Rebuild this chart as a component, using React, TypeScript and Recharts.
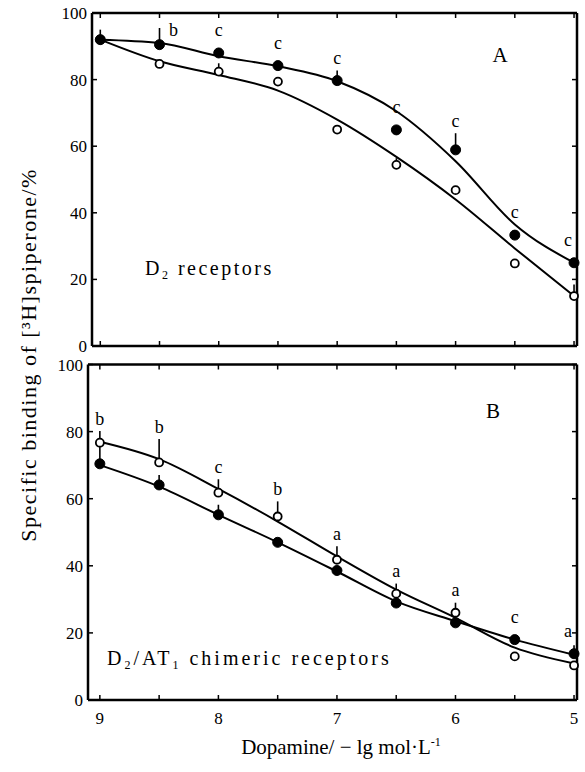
import React from 'react';
import { ComposedChart, Line, XAxis, YAxis, ErrorBar, LabelList } from 'recharts';

const FONT = "'Liberation Serif', 'DejaVu Serif', 'Times New Roman', serif";

// x = dopamine, -lg mol/L (axis runs 9 -> 5)
const doses = [9, 8.5, 8, 7.5, 7, 6.5, 6, 5.5, 5];
const xTicks = [9, 8.5, 8, 7.5, 7, 6.5, 6, 5.5, 5];
const yTicks = [0, 20, 40, 60, 80, 100];

// panel A: D2 receptors
const aFilled = [92, 90.5, 88, 84.2, 79.7, 64.9, 58.9, 33.3, 25];
const aOpen = [92, 84.7, 82.4, 79.4, 65, 54.4, 46.8, 24.8, 15];
const aFilledFit = [92, 91, 87, 84, 79.5, 70.5, 55.5, 36.5, 25];
const aOpenFit = [92, 85.5, 81.4, 76.7, 68, 56.8, 44, 29.3, 15];
const aFilledErr = [3, 5, 1.5, 0, 3, 0, 5, 0, 0];
const aOpenErr = [0, 0, 2.5, 0, 0, 2, 0, 0, 3.5];
const aFilledSig = ['', 'b', 'c', 'c', 'c', 'c', 'c', 'c', 'c'];
const aOpenSig = ['', '', '', '', '', '', '', '', ''];

// panel B: D2/AT1 chimeric receptors
const bFilled = [70.4, 64.1, 55.2, 47, 38.6, 28.9, 23, 18, 13.8];
const bOpen = [76.7, 70.8, 61.8, 54.7, 41.8, 31.7, 26, 13, 10.3];
const bFilledFit = [70, 63.6, 55.2, 47, 38.3, 29.4, 23.5, 18, 13.5];
const bOpenFit = [77, 71.8, 62.9, 53.2, 42.8, 32.9, 24.5, 15.6, 10.9];
const bFilledErr = [5, 3, 3, 0, 0, 0, 0, 0, 2.5];
const bOpenErr = [3.5, 7, 4, 4.5, 4, 3, 3, 0, 0];
const bFilledSig = ['', '', '', '', '', '', '', 'c', 'a'];
const bOpenSig = ['b', 'b', 'c', 'b', 'a', 'a', 'a', '', ''];

const buildRows = (filled, open, filledFit, openFit, filledErr, openErr, filledSig, openSig) =>
  doses.map((d, i) => ({
    dose: d,
    filled: filled[i],
    open: open[i],
    filledFit: filledFit[i],
    openFit: openFit[i],
    filledErr: [0, filledErr[i]],
    openErr: [0, openErr[i]],
    filledSig: filledSig[i],
    openSig: openSig[i],
  }));

const rowsA = buildRows(aFilled, aOpen, aFilledFit, aOpenFit, aFilledErr, aOpenErr, aFilledSig, aOpenSig);
const rowsB = buildRows(bFilled, bOpen, bFilledFit, bOpenFit, bFilledErr, bOpenErr, bFilledSig, bOpenSig);

// significance letters sit above the error bar; near the frame they move aside
const sigLabel = (errs: number[], pxPerUnit: number, plotTop: number) => (props: any) => {
  const { value, index } = props;
  if (!value) return null;
  let x = props.x ?? props.viewBox?.x;
  const y = props.y ?? props.viewBox?.y;
  const errPx = errs[index] * pxPerUnit;
  let ty = y - Math.max(22, errPx + 11);
  if (ty < plotTop + 12) {
    x += 14;
    ty = y - errPx + 3;
  }
  if (index === doses.length - 1) x -= 6;
  return (
    <text x={x} y={ty} dy={5} textAnchor="middle" fontSize={18} fontFamily={FONT} fill="#000">
      {value}
    </text>
  );
};

const XTick = (props: any) => {
  const { x, y, payload, show } = props;
  if (!show || !Number.isInteger(payload.value)) return <g />;
  return (
    <text x={x} y={y} dy={24} textAnchor="middle" fontSize={17} fontFamily={FONT} fill="#000">
      {payload.value}
    </text>
  );
};

const Empty = () => <g />;

const axisLine = { stroke: '#000', strokeWidth: 2.5 };
const tickLine = { stroke: '#000', strokeWidth: 1.5 };

function Panel({ rows, top, height, margin, domain, showX, errs, pxPerUnit }) {
  const plotTop = margin.top + 1;
  return (
    <div style={{ position: 'absolute', left: 0, top }}>
      <ComposedChart width={585} height={height} data={rows} margin={margin}>
        <XAxis
          dataKey="dose"
          type="number"
          domain={domain}
          reversed
          ticks={xTicks}
          interval={0}
          height={showX ? 30 : 1}
          tickSize={-5}
          tickMargin={5}
          axisLine={axisLine}
          tickLine={tickLine}
          tick={(p) => <XTick {...p} show={showX} />}
        />
        <XAxis
          xAxisId="top"
          dataKey="dose"
          orientation="top"
          type="number"
          domain={domain}
          reversed
          ticks={xTicks}
          interval={0}
          height={1}
          tickSize={-5}
          axisLine={axisLine}
          tickLine={tickLine}
          tick={Empty}
        />
        <YAxis
          type="number"
          domain={[0, 100]}
          ticks={yTicks}
          interval={0}
          width={40}
          tickSize={-5}
          tickMargin={10}
          axisLine={axisLine}
          tickLine={tickLine}
          tick={{ fontSize: 17, fill: '#000', fontFamily: FONT }}
        />
        <YAxis
          yAxisId="right"
          orientation="right"
          type="number"
          domain={[0, 100]}
          ticks={yTicks}
          interval={0}
          width={1}
          tickSize={-5}
          axisLine={axisLine}
          tickLine={tickLine}
          tick={Empty}
        />
        {/* invisible series so the frame axes (top / right) get a domain */}
        <Line
          xAxisId="top"
          yAxisId="right"
          dataKey="filledFit"
          stroke="none"
          dot={false}
          activeDot={false}
          legendType="none"
          isAnimationActive={false}
        />
        <Line dataKey="openFit" type="monotone" stroke="#000" strokeWidth={2} dot={false} activeDot={false} isAnimationActive={false} />
        <Line dataKey="filledFit" type="monotone" stroke="#000" strokeWidth={2} dot={false} activeDot={false} isAnimationActive={false} />
        <Line
          dataKey="open"
          stroke="none"
          dot={{ r: 4, fill: '#fff', stroke: '#000', strokeWidth: 1.8 }}
          activeDot={false}
          isAnimationActive={false}
        >
          <ErrorBar dataKey="openErr" direction="y" width={0} stroke="#000" strokeWidth={1.6} />
          <LabelList dataKey="openSig" content={sigLabel(errs.open, pxPerUnit, plotTop)} />
        </Line>
        <Line
          dataKey="filled"
          stroke="none"
          dot={{ r: 5, fill: '#000', stroke: '#000', strokeWidth: 1 }}
          activeDot={false}
          isAnimationActive={false}
        >
          <ErrorBar dataKey="filledErr" direction="y" width={0} stroke="#000" strokeWidth={1.6} />
          <LabelList dataKey="filledSig" content={sigLabel(errs.filled, pxPerUnit, plotTop)} />
        </Line>
      </ComposedChart>
    </div>
  );
}

export default function App() {
  return (
    <div style={{ position: 'absolute', left: 0, top: 0, width: 585, height: 772, background: '#fff' }}>
      <Panel
        rows={rowsA}
        top={0}
        height={362}
        margin={{ top: 12, right: 7, bottom: 15, left: 52 }}
        domain={[4.975, 9.07]}
        showX={false}
        errs={{ open: aOpenErr, filled: aFilledErr }}
        pxPerUnit={3.33}
      />
      <Panel
        rows={rowsB}
        top={350}
        height={422}
        margin={{ top: 13.5, right: 7, bottom: 42, left: 48 }}
        domain={[4.975, 9.1]}
        showX={true}
        errs={{ open: bOpenErr, filled: bFilledErr }}
        pxPerUnit={3.36}
      />
      <svg width={585} height={772} style={{ position: 'absolute', left: 0, top: 0, pointerEvents: 'none' }}>
        <g fontFamily={FONT} fill="#000">
          <text x={500} y={62} fontSize={21} textAnchor="middle">A</text>
          <text x={145} y={275} fontSize={20} letterSpacing={2.5}>
            D<tspan fontSize={12} dy={4}>2</tspan>
            <tspan dy={-4}> receptors</tspan>
          </text>
          <text x={493} y={418} fontSize={21} textAnchor="middle">B</text>
          <text x={107} y={665} fontSize={20} letterSpacing={3}>
            D<tspan fontSize={12} dy={4}>2</tspan>
            <tspan dy={-4}>/AT</tspan>
            <tspan fontSize={12} dy={4}>1</tspan>
            <tspan dy={-4}> chimeric receptors</tspan>
          </text>
          <text x={341} y={754} fontSize={21} textAnchor="middle">
            Dopamine/ − lg mol·L<tspan fontSize={12} dy={-8}>-1</tspan>
          </text>
          <text
            x={0}
            y={0}
            fontSize={22}
            letterSpacing={1.5}
            textAnchor="middle"
            transform="translate(36 355) rotate(-90)"
          >
            Specific binding of [³H]spiperone/%
          </text>
        </g>
      </svg>
    </div>
  );
}
